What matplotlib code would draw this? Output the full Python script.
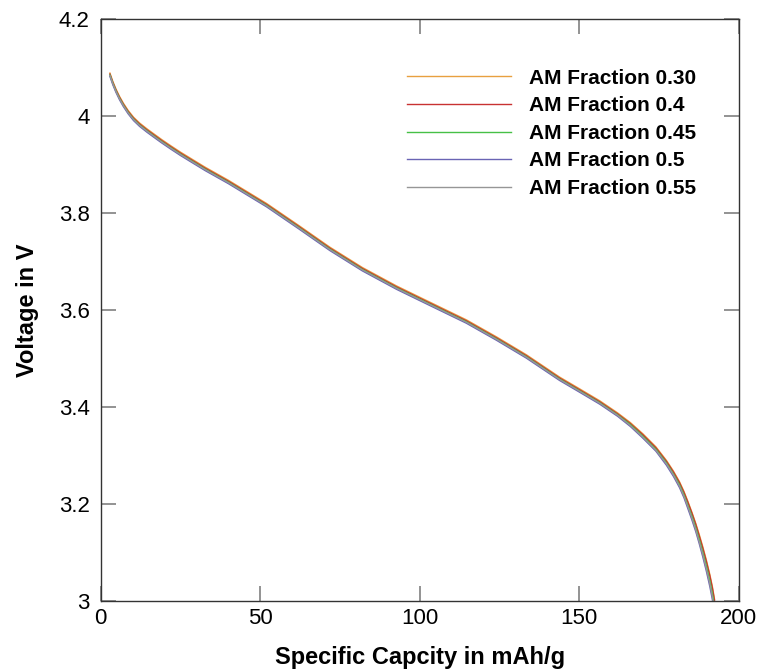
import matplotlib
matplotlib.use('Agg')
import matplotlib.pyplot as plt

plt.rcParams['font.family'] = ['Liberation Sans', 'DejaVu Sans']

# specific capacity in mAh/g (shared by all series)
capacity = [2.9, 3.8, 4.8, 5.9, 7.1, 8.6, 10.3, 12.2, 14.5, 17.0, 19.1, 22.0, 25.0,
            32.7, 40.0, 52.0, 62.0, 71.8, 82.0, 92.7, 103.0, 114.6, 124.0, 133.4,
            143.8, 150.0, 156.4, 162.0, 166.0,
            169.9, 174.0, 177.3, 179.5, 181.4, 182.8, 184.0, 185.3, 186.5, 187.6,
            188.7, 189.8, 190.9, 191.7, 192.4]

# voltage in V per AM fraction
v_030 = [4.089, 4.072, 4.056, 4.041, 4.027, 4.012, 3.998, 3.986, 3.974, 3.962, 3.952, 3.939, 3.926,
         3.895, 3.868, 3.820, 3.775, 3.730, 3.688, 3.650, 3.617, 3.580, 3.545, 3.508,
         3.462, 3.438, 3.413, 3.388, 3.368,
         3.345, 3.318, 3.290, 3.268, 3.246, 3.226, 3.206, 3.183, 3.160, 3.137,
         3.112, 3.085, 3.055, 3.030, 3.003]
v_040 = [4.087, 4.070, 4.054, 4.039, 4.025, 4.010, 3.996, 3.984, 3.972, 3.960, 3.950, 3.937, 3.924,
         3.893, 3.866, 3.818, 3.773, 3.728, 3.686, 3.648, 3.615, 3.578, 3.543, 3.506,
         3.460, 3.436, 3.411, 3.386, 3.366,
         3.343, 3.316, 3.288, 3.266, 3.244, 3.224, 3.204, 3.181, 3.158, 3.134,
         3.109, 3.082, 3.052, 3.027, 3.000]
v_045 = [4.085, 4.068, 4.052, 4.037, 4.023, 4.008, 3.994, 3.982, 3.970, 3.958, 3.948, 3.935, 3.922,
         3.891, 3.864, 3.816, 3.771, 3.726, 3.684, 3.646, 3.613, 3.576, 3.541, 3.504,
         3.458, 3.434, 3.409, 3.384, 3.364,
         3.340, 3.313, 3.285, 3.262, 3.240, 3.219, 3.198, 3.175, 3.151, 3.127,
         3.101, 3.073, 3.042, 3.016, 2.988]
v_050 = [4.082, 4.065, 4.049, 4.034, 4.020, 4.005, 3.991, 3.979, 3.967, 3.955, 3.945, 3.932, 3.919,
         3.888, 3.861, 3.813, 3.768, 3.723, 3.681, 3.643, 3.610, 3.573, 3.538, 3.501,
         3.455, 3.431, 3.406, 3.381, 3.360,
         3.336, 3.309, 3.280, 3.257, 3.234, 3.213, 3.191, 3.167, 3.143, 3.118,
         3.091, 3.062, 3.030, 3.003, 2.975]
v_055 = [4.084, 4.067, 4.051, 4.036, 4.022, 4.007, 3.993, 3.981, 3.969, 3.957, 3.947, 3.934, 3.921,
         3.890, 3.863, 3.815, 3.770, 3.725, 3.683, 3.645, 3.612, 3.575, 3.540, 3.503,
         3.457, 3.433, 3.408, 3.383, 3.362,
         3.338, 3.311, 3.283, 3.260, 3.237, 3.216, 3.195, 3.171, 3.147, 3.122,
         3.096, 3.067, 3.036, 3.009, 2.981]

labels = ['AM Fraction 0.30', 'AM Fraction 0.4', 'AM Fraction 0.45',
          'AM Fraction 0.5', 'AM Fraction 0.55']
series = [v_030, v_040, v_045, v_050, v_055]
colors = ['#e8a040', '#c83232', '#46c046', '#6a64b4', '#969696']

fig = plt.figure(figsize=(7.57, 6.72), dpi=100)
ax = fig.add_axes([0.133, 0.1057, 0.843, 0.8656])

for v, c, lab in zip(series, colors, labels):
    ax.plot(capacity, v, color=c, lw=1.0, label=lab)

ax.set_xlim(0, 200)
ax.set_ylim(3.0, 4.2)
ax.set_xticks([0, 50, 100, 150, 200])
ax.set_xticklabels(['0', '50', '100', '150', '200'])
ax.set_yticks([3.0, 3.2, 3.4, 3.6, 3.8, 4.0, 4.2])
ax.set_yticklabels(['3', '3.2', '3.4', '3.6', '3.8', '4', '4.2'])
ax.tick_params(direction='in', length=11, width=1.2, color='#808080',
               labelsize=16, top=True, right=True)
ax.tick_params(axis='x', pad=5)
ax.tick_params(axis='y', pad=8)
for s in ax.spines.values():
    s.set_linewidth(1.0)
    s.set_color('#333333')

ax.set_xlabel('Specific Capcity in mAh/g', fontsize=17, fontweight='bold', labelpad=12)
ax.set_ylabel('Voltage in V', fontsize=17, fontweight='bold', labelpad=14)

ax.legend(loc='upper left', bbox_to_anchor=(0.48, 0.915), frameon=False,
          prop={'size': 15, 'weight': 'bold'}, handlelength=5.0,
          handletextpad=0.85, labelspacing=0.41, borderpad=0, borderaxespad=0)

fig.savefig('out.png', dpi=100)
